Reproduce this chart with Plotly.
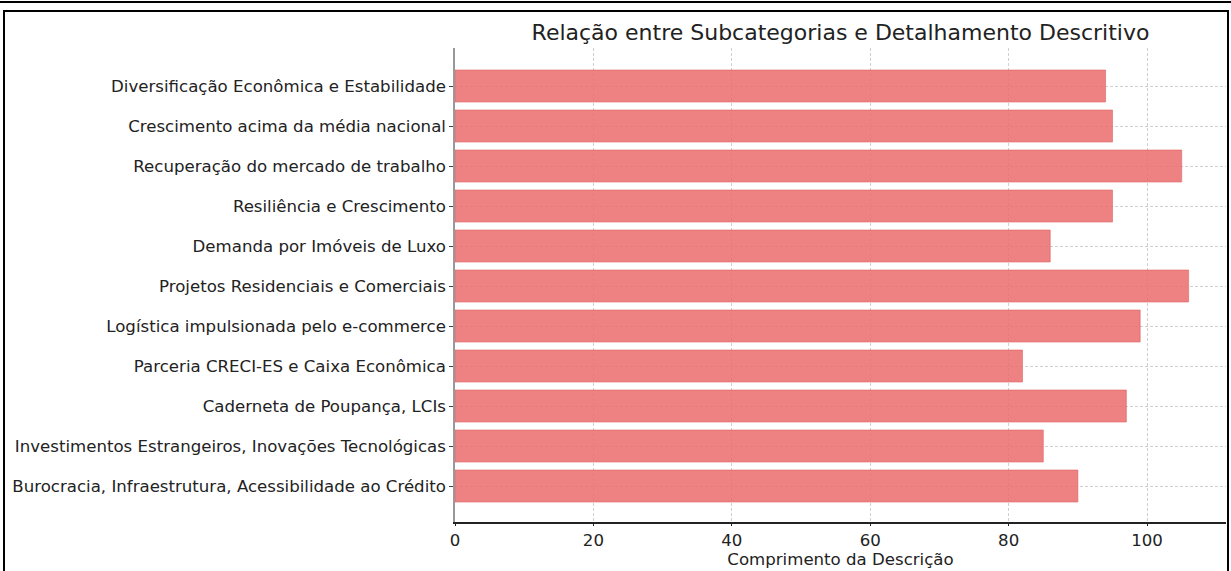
import plotly.graph_objects as go

# subcategorias (de cima para baixo) e comprimento da descrição
subcategorias = [
    "Diversificação Econômica e Estabilidade",
    "Crescimento acima da média nacional",
    "Recuperação do mercado de trabalho",
    "Resiliência e Crescimento",
    "Demanda por Imóveis de Luxo",
    "Projetos Residenciais e Comerciais",
    "Logística impulsionada pelo e-commerce",
    "Parceria CRECI-ES e Caixa Econômica",
    "Caderneta de Poupança, LCIs",
    "Investimentos Estrangeiros, Inovações Tecnológicas",
    "Burocracia, Infraestrutura, Acessibilidade ao Crédito",
]
comprimentos = [94, 95, 105, 95, 86, 106, 99, 82, 97, 85, 90]
x_ticks = [0, 20, 40, 60, 80, 100]

W, H = 1231, 571
L, R, T, B = 455, 5, 48, 49
pw, ph = W - L - R, H - T - B


def px(x):
    return (x - L) / pw


def py(y):
    return (H - B - y) / ph


fig = go.Figure(go.Bar(
    x=comprimentos, y=subcategorias, orientation="h", width=0.8,
    marker=dict(color="rgba(236,112,112,0.88)", line=dict(color="rgba(220,100,100,0.6)", width=1)),
))

n = len(subcategorias)
fig.update_layout(
    width=W, height=H, margin=dict(l=L, r=R, t=T, b=B),
    paper_bgcolor="white", plot_bgcolor="white", showlegend=False,
    font=dict(family="DejaVu Sans", size=16.6, color="#222"),
    title=dict(text="Relação entre Subcategorias e Detalhamento Descritivo",
               x=0.5, xref="paper", y=1 - 32 / H, yanchor="middle",
               font=dict(size=22, color="#222")),
)
fig.update_xaxes(
    range=[0, 111.4], tickvals=x_ticks, showline=True, linecolor="#222", linewidth=1.5,
    ticks="outside", ticklen=2, tickcolor="#222", zeroline=False,
    showgrid=True, gridcolor="#cfcfcf", griddash="3px,2px", gridwidth=1,
    title=dict(text="Comprimento da Descrição", standoff=0, font=dict(size=16.6)),
)
fig.update_yaxes(
    range=[n - 1 + 0.9, -0.95], showline=True, linecolor="#999", linewidth=1.5,
    ticks="outside", ticklen=4, tickcolor="#444", zeroline=False,
    showgrid=True, gridcolor="#cfcfcf", griddash="3px,2px", gridwidth=1,
)

# moldura da imagem original
fig.add_shape(type="line", xref="paper", yref="paper", x0=px(0), x1=px(W), y0=py(2), y1=py(2),
              line=dict(color="black", width=2))
fig.add_shape(type="rect", xref="paper", yref="paper", x0=px(4), x1=px(1228), y0=py(11), y1=py(H + 5),
              line=dict(color="black", width=2))

fig.write_html("out.html", config={"displayModeBar": False},
               post_script="document.body.style.margin='0';")
